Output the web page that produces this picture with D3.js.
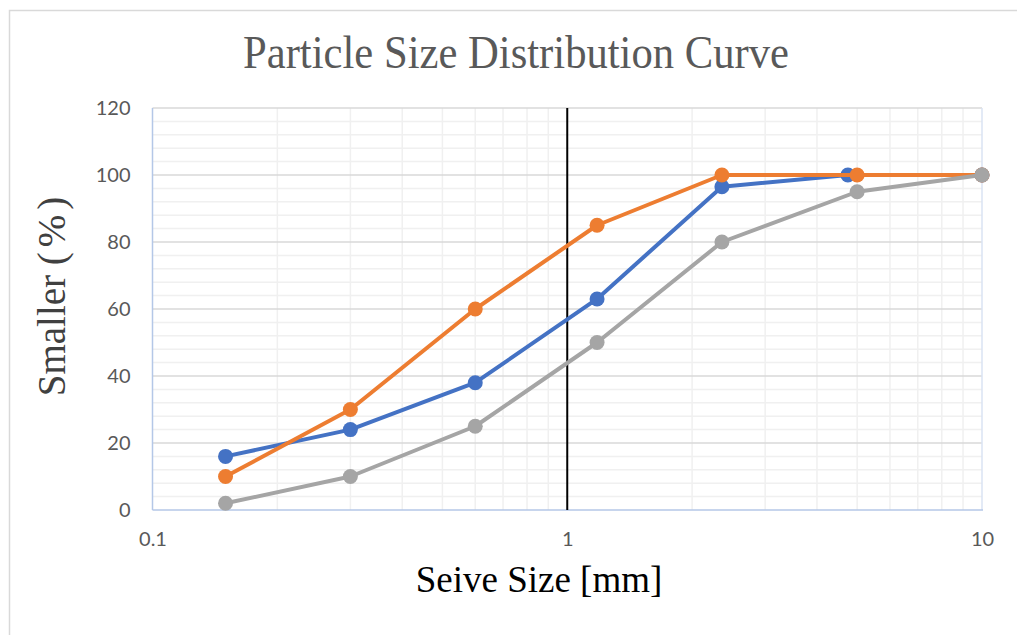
<!DOCTYPE html>
<html><head><meta charset="utf-8">
<script src="https://cdn.jsdelivr.net/npm/d3@7"></script>
<style>body{margin:0;background:#fff;} svg{display:block;}</style>
</head><body>
<svg id="c" width="1017" height="635"></svg>
<script>
const title = "Particle Size Distribution Curve";
const xTitle = "Seive Size [mm]";
const yTitleParts = ["Smaller ", "(%)"];
const sizesA = [0.15, 0.3, 0.6, 1.18, 2.36, 4.75, 10];
const sizesB = [0.15, 0.3, 0.6, 1.18, 2.36, 5, 10];
const seriesBlue = [16, 24, 38, 63, 96.5, 100, 100];
const seriesOrange = [10, 30, 60, 85, 100, 100, 100];
const seriesGray = [2, 10, 25, 50, 80, 95, 100];
const xTicks = [0.1, 1, 10];
const yTicks = [0, 20, 40, 60, 80, 100, 120];
const refLineX = 1;

const svg = d3.select("#c");
const L = 152.5, R = 982, T = 108, B = 510;
const x = d3.scaleLog().domain([0.1, 10]).range([L, R]);
const y = d3.scaleLinear().domain([0, 120]).range([B, T]);

// outer border
svg.append("rect").attr("x", 9.5).attr("y", 10.5).attr("width", 1100).attr("height", 800)
  .attr("fill", "none").attr("stroke", "#d9d9d9").attr("stroke-width", 1.5);

// minor horizontal grid
const yMinor = d3.range(0, 121, 4).filter(v => v % 20 !== 0);
svg.append("g").selectAll("line").data(yMinor).join("line")
  .attr("x1", L).attr("x2", R).attr("y1", d => y(d)).attr("y2", d => y(d))
  .attr("stroke", "#f0f0f0").attr("stroke-width", 1.5);
// minor vertical grid
const xMinor = [];
[0.1, 1].forEach(dec => { for (let k = 2; k <= 9; k++) xMinor.push(dec * k); });
svg.append("g").selectAll("line").data(xMinor).join("line")
  .attr("x1", d => x(d)).attr("x2", d => x(d)).attr("y1", T).attr("y2", B)
  .attr("stroke", "#f0f0f0").attr("stroke-width", 1.5);
// major horizontal grid
svg.append("g").selectAll("line").data(yTicks.filter(v => v > 0)).join("line")
  .attr("x1", L).attr("x2", R).attr("y1", d => y(d)).attr("y2", d => y(d))
  .attr("stroke", "#d9d9d9").attr("stroke-width", 1.5);

// axes lines (light blue)
svg.append("line").attr("x1", L).attr("x2", L).attr("y1", T).attr("y2", B)
  .attr("stroke", "#b4c7e7").attr("stroke-width", 1.5);
svg.append("line").attr("x1", R).attr("x2", R).attr("y1", T).attr("y2", B)
  .attr("stroke", "#dae3f3").attr("stroke-width", 1.5);
svg.append("line").attr("x1", L).attr("x2", R + 1).attr("y1", B).attr("y2", B)
  .attr("stroke", "#b4c7e7").attr("stroke-width", 1.5);

// reference line at 1
svg.append("line").attr("x1", x(refLineX)).attr("x2", x(refLineX)).attr("y1", T).attr("y2", B)
  .attr("stroke", "#000").attr("stroke-width", 2);

// tick labels
const yAxis = d3.axisLeft(y).tickValues(yTicks).tickSize(0).tickPadding(22).tickFormat(d3.format("d"));
const gy = svg.append("g").attr("transform", `translate(${L},0)`).call(yAxis);
gy.select(".domain").remove();
gy.selectAll("text").attr("font-family", "Lato, 'Open Sans', sans-serif").attr("font-size", 20).attr("fill", "#595959");

const xAxis = d3.axisBottom(x).tickValues(xTicks).tickSize(0).tickPadding(22).tickFormat(d => String(d));
const gx = svg.append("g").attr("transform", `translate(0,${B})`).call(xAxis);
gx.select(".domain").remove();
gx.selectAll("text").attr("font-family", "Lato, 'Open Sans', sans-serif").attr("font-size", 20).attr("fill", "#595959");

// series
const series = [
  {xs: sizesA, ys: seriesBlue, color: "#4472c4"},
  {xs: sizesB, ys: seriesOrange, color: "#ed7d31"},
  {xs: sizesB, ys: seriesGray, color: "#a5a5a5"}
];
const line = d3.line().x(d => x(d[0])).y(d => y(d[1]));
series.forEach(s => {
  const pts = s.xs.map((v, i) => [v, s.ys[i]]);
  const g = svg.append("g");
  g.append("path").attr("d", line(pts)).attr("fill", "none")
    .attr("stroke", s.color).attr("stroke-width", 4).attr("stroke-linejoin", "round");
  g.selectAll("circle").data(pts).join("circle")
    .attr("cx", d => x(d[0])).attr("cy", d => y(d[1])).attr("r", 7.5).attr("fill", s.color);
});

// titles
svg.append("text").attr("x", 516).attr("y", 68).attr("text-anchor", "middle")
  .attr("font-family", "'Liberation Serif', 'Times New Roman', serif").attr("font-size", 46)
  .attr("textLength", 546).attr("lengthAdjust", "spacingAndGlyphs")
  .attr("fill", "#595959").text(title);
svg.append("text").attr("x", 539).attr("y", 592).attr("text-anchor", "middle")
  .attr("font-family", "'Liberation Serif', 'Times New Roman', serif").attr("font-size", 37)
  .attr("fill", "#000").text(xTitle);
const yt = svg.append("text").attr("transform", "translate(65,294) rotate(-90)").attr("text-anchor", "middle")
  .attr("font-family", "'Liberation Serif', 'Times New Roman', serif").attr("font-size", 39)
  .attr("fill", "#404040");
yt.append("tspan").text(yTitleParts[0]);
yt.append("tspan").attr("letter-spacing", 5).text(yTitleParts[1]);
</script>
</body></html>
